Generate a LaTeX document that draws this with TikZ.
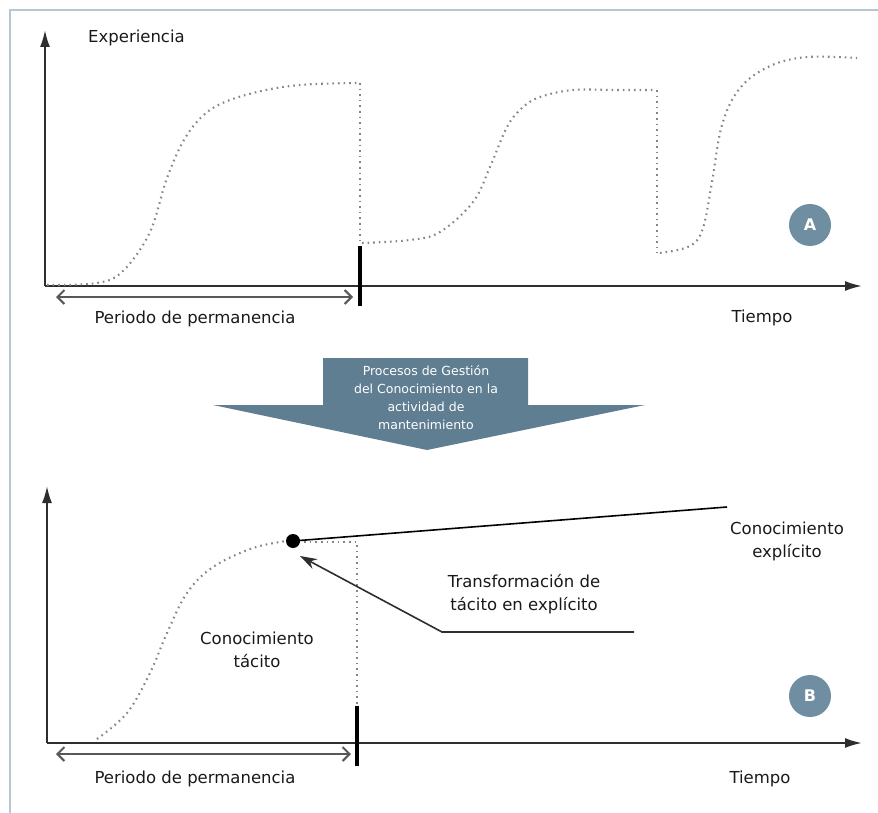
\documentclass[tikz,border=0pt]{standalone}
\usepackage{fontspec}
\setmainfont{DejaVu Sans}
\usetikzlibrary{arrows.meta}
\definecolor{frameblue}{HTML}{B7C7D2}
\definecolor{badge}{HTML}{6F8EA1}
\definecolor{bigarrow}{HTML}{5F7E91}
\definecolor{axisgray}{HTML}{2E2E2E}
\definecolor{dotgray}{HTML}{858585}
\tikzset{
  axisline/.style={draw=axisgray, line width=2pt, -{Latex[length=17pt,width=10pt]}},
  dotcurve/.style={draw=dotgray, line width=2.1pt, dash pattern=on 1.6pt off 4pt},
  stay/.style={draw=axisgray!80, line width=2pt, {Straight Barb[length=7pt,width=14pt,line width=2pt]}-{Straight Barb[length=7pt,width=14pt,line width=2pt]}},
  tickmark/.style={draw=black, line width=4pt},
  lbl/.style={font=\fontsize{16.5}{23}\selectfont, text=black!90, inner sep=0pt},
  badgenode/.style={circle, fill=badge, minimum size=42pt, inner sep=0pt, text=white, font=\fontsize{16}{16}\selectfont\bfseries},
  frameline/.style={draw=frameblue, line width=1.5pt}
}
\begin{document}
\begin{tikzpicture}[x=1pt,y=-1pt]
\useasboundingbox (0,0) rectangle (878,813);
% frame
\coordinate (f0) at (10,10);
\coordinate (f1) at (878,10);
\coordinate (f2) at (10,813);
\draw[frameline] (f1) -- (f0) -- (f2);

% ===== Panel A =====
\coordinate (oA) at (45,286);
\coordinate (yA) at (45,30);
\coordinate (xA) at (862,286);
\draw[axisline] (oA) -- (yA);
\draw[axisline] (oA) -- (xA);
\node[lbl, anchor=base west] (expA) at (88,43) {Experiencia};
\node[lbl, anchor=base] (tiempoA) at (762,322) {Tiempo};
\node[lbl, anchor=base] (periodoA) at (195,323) {Periodo de permanencia};
\coordinate (pA1) at (56,297);
\coordinate (pA2) at (353,297);
\draw[stay] (pA1) -- (pA2);
\coordinate (tA1) at (360,246);
\coordinate (tA2) at (360,306);
\draw[tickmark] (tA1) -- (tA2);
% experience curve A
\draw[dotcurve] plot[smooth, tension=0.6] coordinates {(47,285) (97,283) (123,271) (150,232) (167,178) (187,135) (213,108) (253,93) (300,85) (358,83)};
\draw[dotcurve] (360,83) -- (360,243);
\draw[dotcurve] plot[smooth, tension=0.6] coordinates {(362,243) (410,240) (440,232) (473,202) (490,167) (507,127) (522,108) (540,97) (573,90) (615,90) (655,90)};
\draw[dotcurve] (657,90) -- (657,253);
\draw[dotcurve] plot[smooth, tension=0.6] coordinates {(660,253) (690,246) (703,228) (712,182) (722,125) (740,88) (770,66) (807,57) (857,58)};
\node[badgenode] (badgeA) at (810,225) {A};

% ===== Big arrow =====
\path[fill=bigarrow] (323,358) -- (528,358) -- (528,405) -- (645,405) -- (427,450) -- (213,405) -- (323,405) -- cycle;
\node[align=center, text=white, font=\fontsize{12.5}{18}\selectfont, inner sep=0pt] (proc) at (426,398)
  {Procesos de Gestión\\del Conocimiento en la\\actividad de\\mantenimiento};

% ===== Panel B =====
\coordinate (oB) at (47,743);
\coordinate (yB) at (47,486);
\coordinate (xB) at (862,743);
\draw[axisline] (oB) -- (yB);
\draw[axisline] (oB) -- (xB);
\node[lbl, anchor=base] (tiempoB) at (760,783) {Tiempo};
\node[lbl, anchor=base] (periodoB) at (195,783) {Periodo de permanencia};
\coordinate (pB1) at (56,754);
\coordinate (pB2) at (351,754);
\draw[stay] (pB1) -- (pB2);
\coordinate (tB1) at (357,706);
\coordinate (tB2) at (357,766);
\draw[tickmark] (tB1) -- (tB2);
\draw[dotcurve] plot[smooth, tension=0.6] coordinates {(97,739) (127,713) (150,673) (167,633) (187,593) (213,567) (253,548) (287,541)};
\draw[dotcurve] (293,542) -- (357,542) -- (357,706);
\node[circle, fill=black, minimum size=14pt, inner sep=0pt] (dot) at (293,541) {};
\coordinate (expEnd) at (727,507);
\draw[draw=black, line width=1.6pt] (dot.center) -- (expEnd);
\coordinate (tr1) at (634,632);
\coordinate (tr2) at (442,632);
\coordinate (trTip) at (300,556);
\draw[draw=axisgray, line width=1.6pt, -{Stealth[length=17pt,width=11pt]}] (tr1) -- (tr2) -- (trTip);
\node[lbl, align=center] (tacito) at (257,650) {Conocimiento\\tácito};
\node[lbl, align=center] (transf) at (524,594) {Transformación de\\tácito en explícito};
\node[lbl, align=center] (explic) at (787,541) {Conocimiento\\explícito};
\node[badgenode] (badgeB) at (810,696) {B};
\end{tikzpicture}
\end{document}
